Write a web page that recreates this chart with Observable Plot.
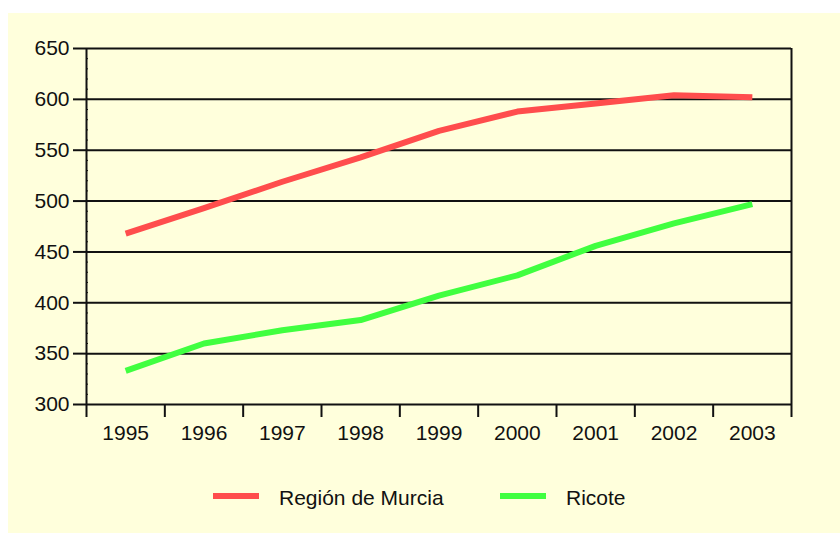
<!DOCTYPE html>
<html>
<head>
<meta charset="utf-8">
<script src="https://cdn.jsdelivr.net/npm/d3@7"></script>
<script src="https://cdn.jsdelivr.net/npm/@observablehq/plot@0.6"></script>
<style>
  html, body { margin: 0; padding: 0; background: #ffffff; }
  #frame { position: absolute; left: 8px; top: 13px; width: 832px; height: 520px; background: #FFFFDC; font-family: "Liberation Sans", Arial, sans-serif; }
  #chart { position: absolute; left: 0; top: 0; }
  .leg { position: absolute; font-size: 21px; color: #111; line-height: 1; }
  .sw { position: absolute; height: 6px; width: 46px; }
</style>
</head>
<body>
<div id="frame">
  <div id="chart"></div>
  <div class="sw" style="left:205px; top:480px; background:#FF4D4D"></div>
  <div class="leg" style="left:271px; top:474px">Región de Murcia</div>
  <div class="sw" style="left:492px; top:480px; background:#40FF40"></div>
  <div class="leg" style="left:558px; top:474px">Ricote</div>
</div>
<script>
const years = [1995, 1996, 1997, 1998, 1999, 2000, 2001, 2002, 2003];
const murcia = [468, 493, 519, 543, 569, 588, 596, 604, 602];
const ricote = [333, 360, 373, 383, 407, 427, 456, 478, 497];
const yTicks = [300, 350, 400, 450, 500, 550, 600, 650];
const seriesNames = ["Región de Murcia", "Ricote"];
const seriesColors = ["#FF4D4D", "#40FF40"];

const rows = [];
years.forEach((yr, i) => {
  rows.push({year: yr, value: murcia[i], series: seriesNames[0]});
  rows.push({year: yr, value: ricote[i], series: seriesNames[1]});
});
const bounds = [...years.map(y => y - 0.5), years[years.length - 1] + 0.5];
const minor = d3.range(yTicks[0], yTicks[yTicks.length - 1] + 1, 10);

const chart = Plot.plot({
  width: 832,
  height: 440,
  marginLeft: 78,
  marginRight: 49,
  marginTop: 35,
  marginBottom: 49,
  style: {background: "transparent", color: "#111", fontSize: "20px", fontFamily: "'Liberation Sans', Arial, sans-serif"},
  x: {type: "linear", domain: [bounds[0], bounds[bounds.length - 1]]},
  y: {domain: [yTicks[0], yTicks[yTicks.length - 1]]},
  color: {domain: seriesNames, range: seriesColors},
  marks: [
    Plot.ruleY(yTicks, {stroke: "#111", strokeWidth: 2}),
    Plot.ruleX([bounds[0], bounds[bounds.length - 1]], {stroke: "#111", strokeWidth: 2}),
    Plot.axisY({ticks: minor, tickSize: -2, tickFormat: null, text: null, stroke: "#111", strokeWidth: 1, label: null}),
    Plot.axisY({ticks: yTicks, tickSize: 13, tickPadding: 4, strokeWidth: 2, label: null, fontSize: 21, tickFormat: d => String(d)}),
    Plot.axisX({ticks: bounds, tickSize: 13, text: null, strokeWidth: 2, label: null}),
    Plot.axisX({ticks: years, tickSize: 0, tickPadding: 21, label: null, fontSize: 21, tickFormat: d => String(d)}),
    Plot.line(rows, {x: "year", y: "value", z: "series", stroke: "series", strokeWidth: 6, strokeLinecap: "butt", strokeLinejoin: "round"})
  ]
});
document.getElementById("chart").appendChild(chart);
</script>
</body>
</html>
